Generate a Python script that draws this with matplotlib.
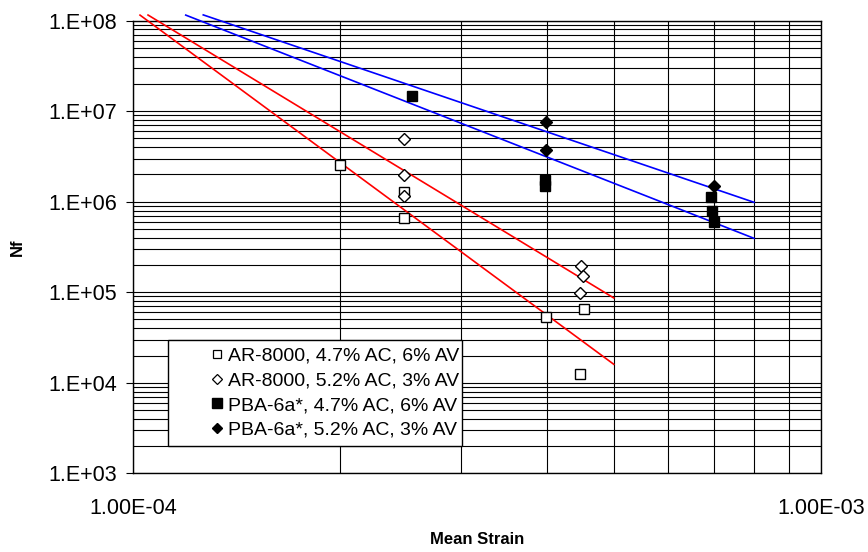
import numpy as np
import matplotlib.pyplot as plt
from matplotlib.patches import Rectangle
from matplotlib.ticker import LogLocator, FixedLocator, FuncFormatter, NullFormatter

plt.rcParams['font.family'] = ['Liberation Sans', 'DejaVu Sans']

# measured fatigue data (mean strain, cycles to failure)
ar47_strain = [2.0e-4, 2.48e-4, 2.48e-4, 3.98e-4, 4.52e-4, 4.47e-4]
ar47_nf = [2.54e6, 1.29e6, 6.66e5, 5.33e4, 6.59e4, 1.26e4]

ar52_strain = [2.48e-4, 2.48e-4, 2.48e-4, 4.48e-4, 4.51e-4, 4.47e-4]
ar52_nf = [4.89e6, 1.96e6, 1.16e6, 1.97e5, 1.51e5, 9.9e4]

pba47_strain = [2.54e-4, 3.97e-4, 3.97e-4, 6.92e-4, 6.95e-4, 7.0e-4]
pba47_nf = [1.47e7, 1.74e6, 1.49e6, 1.14e6, 7.89e5, 6.01e5]

pba52_strain = [3.99e-4, 3.99e-4, 7.0e-4]
pba52_nf = [7.65e6, 3.70e6, 1.49e6]

labels = ['AR-8000, 4.7% AC, 6% AV', 'AR-8000, 5.2% AC, 3% AV',
          'PBA-6a*, 4.7% AC, 6% AV', 'PBA-6a*, 5.2% AC, 3% AV']

# power-law trendlines: Nf = n_end * (strain / end)^exp
trend_start = [1.0505e-4, 1.0227e-4, 1.264e-4, 1.192e-4]
trend_end = [5.0e-4, 5.0e-4, 8.0e-4, 8.0e-4]
trend_n_end = [8.65e4, 1.60e4, 9.85e5, 3.94e5]
trend_exp = [-4.613, -5.597, -2.584, -2.983]
trend_color = ['red', 'red', 'blue', 'blue']

fig = plt.figure(figsize=(8.68, 5.52), dpi=100)
ax = fig.add_axes([0.1536, 0.1426, 0.7919, 0.8199])
ax.set_xscale('log')
ax.set_yscale('log')
ax.set_xlim(1e-4, 1e-3)
ax.set_ylim(1e3, 1e8)

# trendlines
for s, e, n, b, c in zip(trend_start, trend_end, trend_n_end, trend_exp, trend_color):
    x = np.logspace(np.log10(s), np.log10(e), 50)
    ax.plot(x, n * (x / e) ** b, color=c, lw=1.2, clip_on=False, zorder=3)

# data points
ax.plot(ar47_strain, ar47_nf, 's', ms=7, mfc='white', mec='black', mew=1.0, ls='none', zorder=4)
ax.plot(ar52_strain, ar52_nf, 'D', ms=6, mfc='white', mec='black', mew=1.0, ls='none', zorder=4)
ax.plot(pba47_strain, pba47_nf, 's', ms=7.5, color='black', ls='none', zorder=4)
ax.plot(pba52_strain, pba52_nf, 'D', ms=6.5, color='black', ls='none', zorder=4)

# grid
ax.yaxis.set_major_locator(LogLocator(base=10, numticks=10))
ax.yaxis.set_minor_locator(LogLocator(base=10, subs=np.arange(2, 10), numticks=20))
ax.yaxis.set_minor_formatter(NullFormatter())
ax.yaxis.set_major_formatter(FuncFormatter(lambda v, p: '1.E+%02d' % round(np.log10(v))))
ax.xaxis.set_major_locator(FixedLocator([1e-4, 1e-3]))
ax.xaxis.set_minor_locator(FixedLocator([k * 1e-4 for k in range(2, 10)]))
ax.xaxis.set_minor_formatter(NullFormatter())
ax.xaxis.set_major_formatter(FuncFormatter(lambda v, p: '%.2E' % v))
ax.grid(True, which='both', color='black', lw=0.8)
ax.set_axisbelow(True)

ax.tick_params(axis='y', which='major', direction='out', length=5, width=0.8, pad=7, labelsize=15.5)
ax.tick_params(axis='y', which='minor', length=0)
ax.tick_params(axis='x', which='both', length=0, pad=17.5, labelsize=15.5)
for sp in ax.spines.values():
    sp.set_color('black')
    sp.set_linewidth(1.0)

ax.set_xlabel('Mean Strain', fontsize=12, fontweight='bold', va='center')
ax.xaxis.set_label_coords(0.5, -0.147)
ax.set_ylabel('Nf', fontsize=12, fontweight='bold', va='center')
ax.yaxis.set_label_coords(-0.168, 0.5)

# legend box
box = Rectangle((0.0505, 0.060), 0.4275, 0.2345, transform=ax.transAxes,
                facecolor='white', edgecolor='black', lw=1.0, zorder=5)
ax.add_patch(box)
handles = [
    plt.Line2D([], [], marker='s', ms=6, mfc='white', mec='black', mew=0.9, ls='none'),
    plt.Line2D([], [], marker='D', ms=5, mfc='white', mec='black', mew=0.9, ls='none'),
    plt.Line2D([], [], marker='s', ms=6.5, color='black', ls='none'),
    plt.Line2D([], [], marker='D', ms=5.5, color='black', ls='none'),
]
leg = ax.legend(handles, labels, loc='center right', bbox_to_anchor=(0.474, 0.1773),
                frameon=False, fontsize=14, handlelength=0.6, handletextpad=0.25,
                labelspacing=0.36, borderpad=0.0, borderaxespad=0.0)
leg.set_zorder(6)

fig.savefig('out.png', dpi=100)
